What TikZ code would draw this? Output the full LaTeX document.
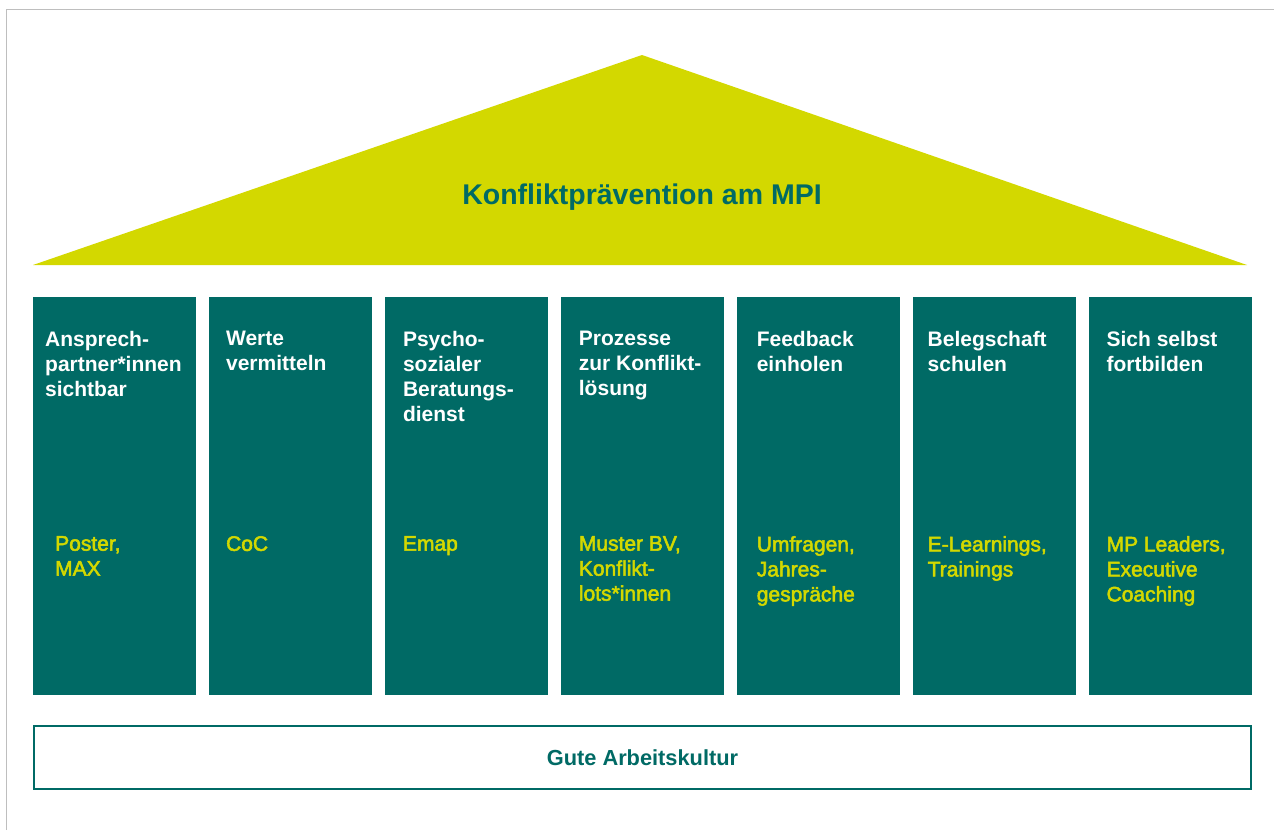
\documentclass[tikz,border=0pt]{standalone}
\usepackage{fontspec}
\setmainfont{Liberation Sans}
\newfontface\mediumface[FakeBold=2.5]{Liberation Sans}
\usetikzlibrary{positioning}

\definecolor{mpiteal}{RGB}{0,106,101}
\definecolor{mpilime}{RGB}{211,216,0}
\definecolor{framegray}{RGB}{190,190,190}

\tikzset{
  pillar/.style={fill=mpiteal, draw=none, inner sep=0pt, anchor=north west,
    minimum width=163pt, minimum height=398pt},
  headtext/.style={anchor=north west, inner sep=0pt, align=left, text=white,
    font=\bfseries\fontsize{21}{25}\selectfont},
  foottext/.style={anchor=north west, inner sep=0pt, align=left, text=mpilime,
    font=\mediumface\fontsize{21}{25}\selectfont},
  basebox/.style={draw=mpiteal, line width=2.2pt, fill=white, inner sep=0pt,
    minimum width=1217pt, minimum height=63pt, text=mpiteal,
    font=\bfseries\fontsize{21.8}{25}\selectfont}
}

\begin{document}
\begin{tikzpicture}[x=1pt,y=1pt,yscale=-1,xscale=1]
\useasboundingbox (0,0) rectangle (1274,830);

%Frame lines
\draw [framegray, line width=1pt] (6,830) -- (6,9.5) -- (1274,9.5) ;

%Shape: Roof
\fill [mpilime] (33,265) -- (642,55) -- (1247,265) -- cycle ;
% Text Node
\node [text=mpiteal, font=\bfseries\fontsize{28.5}{34}\selectfont] (title) at (642,197) {Konfliktprävention am MPI};

%Pillars with their texts
\foreach \i/\hx/\fx/\head/\foot [evaluate=\i as \x using 33+175.9*(\i-1)] in {
  1/12/22/{Ansprech-\\partner*innen\\sichtbar}/{Poster,\\MAX},
  2/17/17/{Werte\\vermitteln}/{CoC},
  3/18/18/{Psycho-\\sozialer\\Beratungs-\\dienst}/{Emap},
  4/18/18/{Prozesse\\zur Konflikt-\\lösung}/{Muster BV,\\Konflikt-\\lots*innen},
  5/20/20/{Feedback\\einholen}/{Umfragen,\\Jahres-\\gespräche},
  6/15/15/{Belegschaft\\schulen}/{E-Learnings,\\Trainings},
  7/18/18/{Sich selbst\\fortbilden}/{MP Leaders,\\Executive\\Coaching}}{
  \node [pillar] (p\i) at (\x,297) {};
  \node [headtext] (h\i) at (\x+\hx,331) {\head};
  \node [foottext] (f\i) at (\x+\fx,536) {\foot};
}

%Shape: Base
\node [basebox] (kultur) at (642.5,757.5) {Gute Arbeitskultur};
\end{tikzpicture}
\end{document}
